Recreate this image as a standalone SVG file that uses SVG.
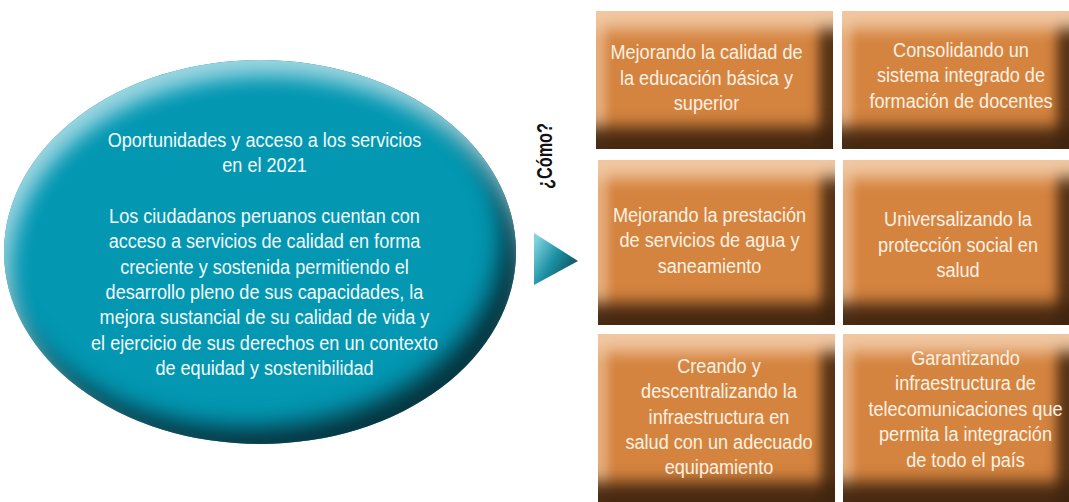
<svg xmlns="http://www.w3.org/2000/svg" width="1069" height="502" viewBox="0 0 1069 502">
<style>
.t{font-family:"Liberation Sans",Arial,sans-serif;font-size:20px;text-anchor:middle}
.te{fill:#f4fbfc}
.tb{fill:#fdf1e3}
.box{fill:#d5843f;filter:url(#bevB)}
.q{font-family:"Liberation Sans",Arial,sans-serif;font-size:22px;font-weight:bold;fill:#111;text-anchor:middle}
</style>
<defs>
<filter id="bevE" x="-10%" y="-10%" width="120%" height="120%" color-interpolation-filters="sRGB">
<feOffset in="SourceAlpha" dx="-14" dy="-16" result="a"/>
<feGaussianBlur in="a" stdDeviation="12" result="ab"/>
<feComposite in="SourceAlpha" in2="ab" operator="out" result="dE"/>
<feFlood flood-color="#05313b"/>
<feComposite in2="dE" operator="in" result="dark"/>
<feOffset in="SourceAlpha" dx="7" dy="16" result="b"/>
<feGaussianBlur in="b" stdDeviation="10" result="bb"/>
<feComposite in="SourceAlpha" in2="bb" operator="out" result="lE"/>
<feFlood flood-color="#9dd6e1"/>
<feComposite in2="lE" operator="in" result="light"/>
<feMerge><feMergeNode in="SourceGraphic"/><feMergeNode in="dark"/><feMergeNode in="light"/></feMerge>
</filter>
<filter id="bevB" x="-20%" y="-30%" width="140%" height="160%" color-interpolation-filters="sRGB">
<feMorphology in="SourceAlpha" operator="dilate" radius="40 0" result="m1"/>
<feOffset in="m1" dx="0" dy="18" result="o1"/>
<feGaussianBlur in="o1" stdDeviation="8" result="b1"/>
<feComposite in="SourceAlpha" in2="b1" operator="out" result="e1"/>
<feFlood flood-color="#f0c7a2"/>
<feComposite in2="e1" operator="in" result="lt"/>
<feMorphology in="SourceAlpha" operator="dilate" radius="0 40" result="m2"/>
<feOffset in="m2" dx="10" dy="0" result="o2"/>
<feGaussianBlur in="o2" stdDeviation="5" result="b2"/>
<feComposite in="SourceAlpha" in2="b2" operator="out" result="e2"/>
<feFlood flood-color="#eab68a" flood-opacity="0.8"/>
<feComposite in2="e2" operator="in" result="ll"/>
<feMorphology in="SourceAlpha" operator="dilate" radius="0 40" result="m3"/>
<feOffset in="m3" dx="-14" dy="0" result="o3"/>
<feGaussianBlur in="o3" stdDeviation="6" result="b3"/>
<feComposite in="SourceAlpha" in2="b3" operator="out" result="e3"/>
<feFlood flood-color="#3f240e" flood-opacity="0.85"/>
<feComposite in2="e3" operator="in" result="dr"/>
<feMorphology in="SourceAlpha" operator="dilate" radius="40 0" result="m4"/>
<feOffset in="m4" dx="0" dy="-22" result="o4"/>
<feGaussianBlur in="o4" stdDeviation="8" result="b4"/>
<feComposite in="SourceAlpha" in2="b4" operator="out" result="e4"/>
<feFlood flood-color="#3f240e" flood-opacity="0.95"/>
<feComposite in2="e4" operator="in" result="db"/>
<feMerge><feMergeNode in="SourceGraphic"/><feMergeNode in="ll"/><feMergeNode in="dr"/><feMergeNode in="db"/><feMergeNode in="lt"/></feMerge>
</filter>
<linearGradient id="triG" x1="0" y1="0.2" x2="1" y2="0.9">
<stop offset="0" stop-color="#7fd2de"/>
<stop offset="0.45" stop-color="#1b8fa2"/>
<stop offset="1" stop-color="#0a3f4a"/>
</linearGradient>
</defs>
<rect width="1069" height="502" fill="#fff"/>

<g id="node-vision">
<ellipse cx="260" cy="252" rx="256" ry="192" fill="#0397b2" filter="url(#bevE)"/>
<g transform="translate(264.5,0) scale(0.905,1)" class="t te">
<text x="0" y="147">Oportunidades y acceso a los servicios</text>
<text x="0" y="172.3">en el 2021</text>
<text x="0" y="223">Los ciudadanos peruanos cuentan con</text>
<text x="0" y="248.3">acceso a servicios de calidad en forma</text>
<text x="0" y="273.6">creciente y sostenida permitiendo el</text>
<text x="0" y="299">desarrollo pleno de sus capacidades, la</text>
<text x="0" y="324.3">mejora sustancial de su calidad de vida y</text>
<text x="0" y="349.6">el ejercicio de sus derechos en un contexto</text>
<text x="0" y="375">de equidad y sostenibilidad</text>
</g>
</g>

<g id="connectors">
<polygon points="534,233 578,261 534,285" fill="url(#triG)"/>
<text class="q" transform="translate(552,156) rotate(-90)" x="0" y="0" textLength="66" lengthAdjust="spacingAndGlyphs">¿Cómo?</text>
</g>

<g id="node-educacion">
<rect class="box" x="596" y="11" width="237" height="138"/>
<g transform="translate(706.5,0) scale(0.905,1)" class="t tb">
<text x="0" y="59.5">Mejorando la calidad de</text>
<text x="0" y="84.8">la educación básica y</text>
<text x="0" y="110">superior</text>
</g>
</g>

<g id="node-docentes">
<rect class="box" x="842" y="11" width="229" height="138"/>
<g transform="translate(961,0) scale(0.905,1)" class="t tb">
<text x="0" y="57">Consolidando un</text>
<text x="0" y="82.5">sistema integrado de</text>
<text x="0" y="108">formación de docentes</text>
</g>
</g>

<g id="node-agua">
<rect class="box" x="598" y="160" width="237" height="165"/>
<g transform="translate(709.5,0) scale(0.905,1)" class="t tb">
<text x="0" y="222">Mejorando la prestación</text>
<text x="0" y="247.5">de servicios de agua y</text>
<text x="0" y="273">saneamiento</text>
</g>
</g>

<g id="node-salud">
<rect class="box" x="843" y="160" width="228" height="165"/>
<g transform="translate(958,0) scale(0.905,1)" class="t tb">
<text x="0" y="226.5">Universalizando la</text>
<text x="0" y="252">protección social en</text>
<text x="0" y="277.5">salud</text>
</g>
</g>

<g id="node-infraestructura">
<rect class="box" x="598" y="334" width="237" height="170"/>
<g transform="translate(719,0) scale(0.905,1)" class="t tb">
<text x="0" y="373">Creando y</text>
<text x="0" y="398.3">descentralizando la</text>
<text x="0" y="423.6">infraestructura en</text>
<text x="0" y="449">salud con un adecuado</text>
<text x="0" y="474.3">equipamiento</text>
</g>
</g>

<g id="node-telecom">
<rect class="box" x="843" y="334" width="228" height="170"/>
<g transform="translate(965.5,0) scale(0.905,1)" class="t tb">
<text x="0" y="365">Garantizando</text>
<text x="0" y="390.5">infraestructura de</text>
<text x="0" y="416">telecomunicaciones que</text>
<text x="0" y="441.5">permita la integración</text>
<text x="0" y="467">de todo el país</text>
</g>
</g>
</svg>
